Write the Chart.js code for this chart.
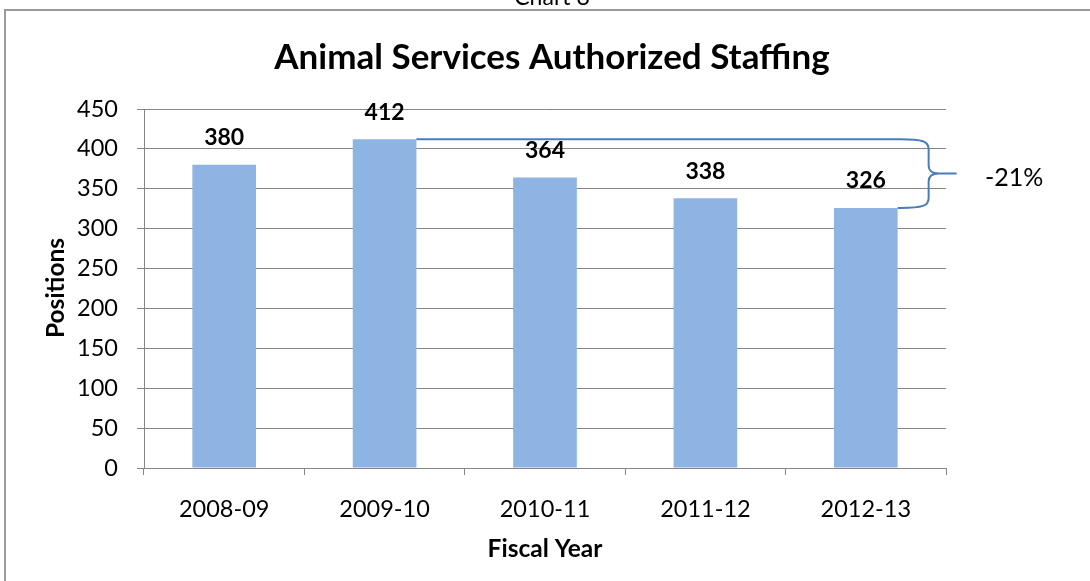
<!DOCTYPE html>
<html>
<head>
<meta charset="utf-8">
<script src="https://cdn.jsdelivr.net/npm/chart.js@4.4.1/dist/chart.umd.min.js"></script>
<style>
  html, body { margin: 0; padding: 0; background: #ffffff; }
  #wrap { position: relative; width: 1090px; height: 581px; overflow: hidden; }
  #cap { position: absolute; left: 0; width: 1104px; top: -18px; text-align: center;
         font: 23px Lato, sans-serif; color: #000; }
  canvas { position: absolute; left: 0; top: 0; }
</style>
</head>
<body>
<div id="wrap">
  <canvas id="c" width="1090" height="581"></canvas>
  <div id="cap">Chart 8</div>
</div>
<script>
// ---- data ----
const categories = ['2008-09', '2009-10', '2010-11', '2011-12', '2012-13'];
const positions = [380, 412, 364, 338, 326];
const yTicks = [0, 50, 100, 150, 200, 250, 300, 350, 400, 450];
const chartTitle = 'Animal Services Authorized Staffing';
const yTitle = 'Positions';
const xTitle = 'Fiscal Year';
const changeLabel = '-21%';
const changeFrom = 1;   // index of 2009-10
const changeTo = 4;     // index of 2012-13

const FONT = 'Lato, sans-serif';
const GRID = '#868686';

const overlay = {
  id: 'overlay',
  beforeDraw(chart) {
    const ctx = chart.ctx;
    ctx.save();
    ctx.strokeStyle = '#9a9a9a';
    ctx.lineWidth = 2;
    ctx.beginPath();
    ctx.moveTo(1090, 10); ctx.lineTo(5, 10); ctx.lineTo(5, 581);
    ctx.stroke();
    ctx.restore();
  },
  afterDatasetsDraw(chart) {
    const ctx = chart.ctx;
    const meta = chart.getDatasetMeta(0);
    const area = chart.chartArea;
    ctx.save();
    ctx.fillStyle = '#000';
    // value labels
    ctx.font = 'bold 23px ' + FONT;
    ctx.textAlign = 'center';
    ctx.textBaseline = 'alphabetic';
    meta.data.forEach((bar, i) => {
      ctx.fillText(String(positions[i]), bar.x, bar.y - 19.5);
    });
    // title
    ctx.font = 'bold 35px ' + FONT;
    ctx.fillText(chartTitle, 552, 69);
    // x title
    ctx.font = 'bold 24.5px ' + FONT;
    ctx.fillText(xTitle, (area.left + area.right) / 2, 557);
    // y title
    ctx.save();
    ctx.translate(64, 288);
    ctx.rotate(-Math.PI / 2);
    ctx.fillText(yTitle, 0, 0);
    ctx.restore();

    // bracket
    const bA = meta.data[changeFrom];
    const bB = meta.data[changeTo];
    const yT = chart.scales.y.getPixelForValue(positions[changeFrom]);
    const yB = chart.scales.y.getPixelForValue(positions[changeTo]);
    const xStart = bA.x + bA.width / 2;
    const xEndB = bB.x + bB.width / 2;
    const xs = xEndB + 3;
    const xb = xs + 28;
    const xtip = xb + 28;
    const mid = (yT + yB) / 2;
    ctx.strokeStyle = '#4A7EBB';
    ctx.lineWidth = 2;
    ctx.beginPath();
    ctx.moveTo(xStart, yT);
    ctx.lineTo(xs, yT);
    ctx.bezierCurveTo(xs + 22, yT, xb, yT + 2, xb, yT + 10);
    ctx.lineTo(xb, mid - 8);
    ctx.quadraticCurveTo(xb, mid, xb + 10, mid);
    ctx.lineTo(xtip, mid);
    ctx.moveTo(xb + 10, mid);
    ctx.quadraticCurveTo(xb, mid, xb, mid + 8);
    ctx.lineTo(xb, yB - 10);
    ctx.bezierCurveTo(xb, yB - 2, xs + 22, yB, xs, yB);
    ctx.lineTo(xEndB, yB);
    ctx.stroke();
    // change label
    ctx.font = '25px ' + FONT;
    ctx.textAlign = 'left';
    ctx.fillText(changeLabel, 985, 186);
    ctx.restore();
  }
};

new Chart(document.getElementById('c'), {
  type: 'bar',
  data: {
    labels: categories,
    datasets: [{
      data: positions,
      backgroundColor: '#8EB4E3',
      borderWidth: 0,
      categoryPercentage: 1,
      barPercentage: 0.397
    }]
  },
  options: {
    responsive: false,
    animation: false,
    devicePixelRatio: 1,
    layout: { padding: { left: 0, right: 144, top: 109, bottom: 0 } },
    plugins: { legend: { display: false }, title: { display: false }, tooltip: { enabled: false } },
    scales: {
      x: {
        grid: { display: true, drawOnChartArea: false, drawTicks: true, tickLength: 7, color: GRID, offset: true },
        border: { display: true, color: GRID, width: 1 },
        ticks: { color: '#000', font: { family: FONT, size: 23.5 }, padding: 20, maxRotation: 0 },
        afterFit(s) { s.height = 113; }
      },
      y: {
        min: 0, max: 450,
        afterBuildTicks(s) { s.ticks = yTicks.map(v => ({ value: v })); },
        grid: { color: GRID, tickLength: 7, drawTicks: true },
        border: { display: true, color: GRID, width: 1 },
        ticks: { color: '#000', font: { family: FONT, size: 23.5 }, padding: 19 },
        afterFit(s) { s.width = 144; }
      }
    }
  },
  plugins: [overlay]
});
</script>
</body>
</html>
